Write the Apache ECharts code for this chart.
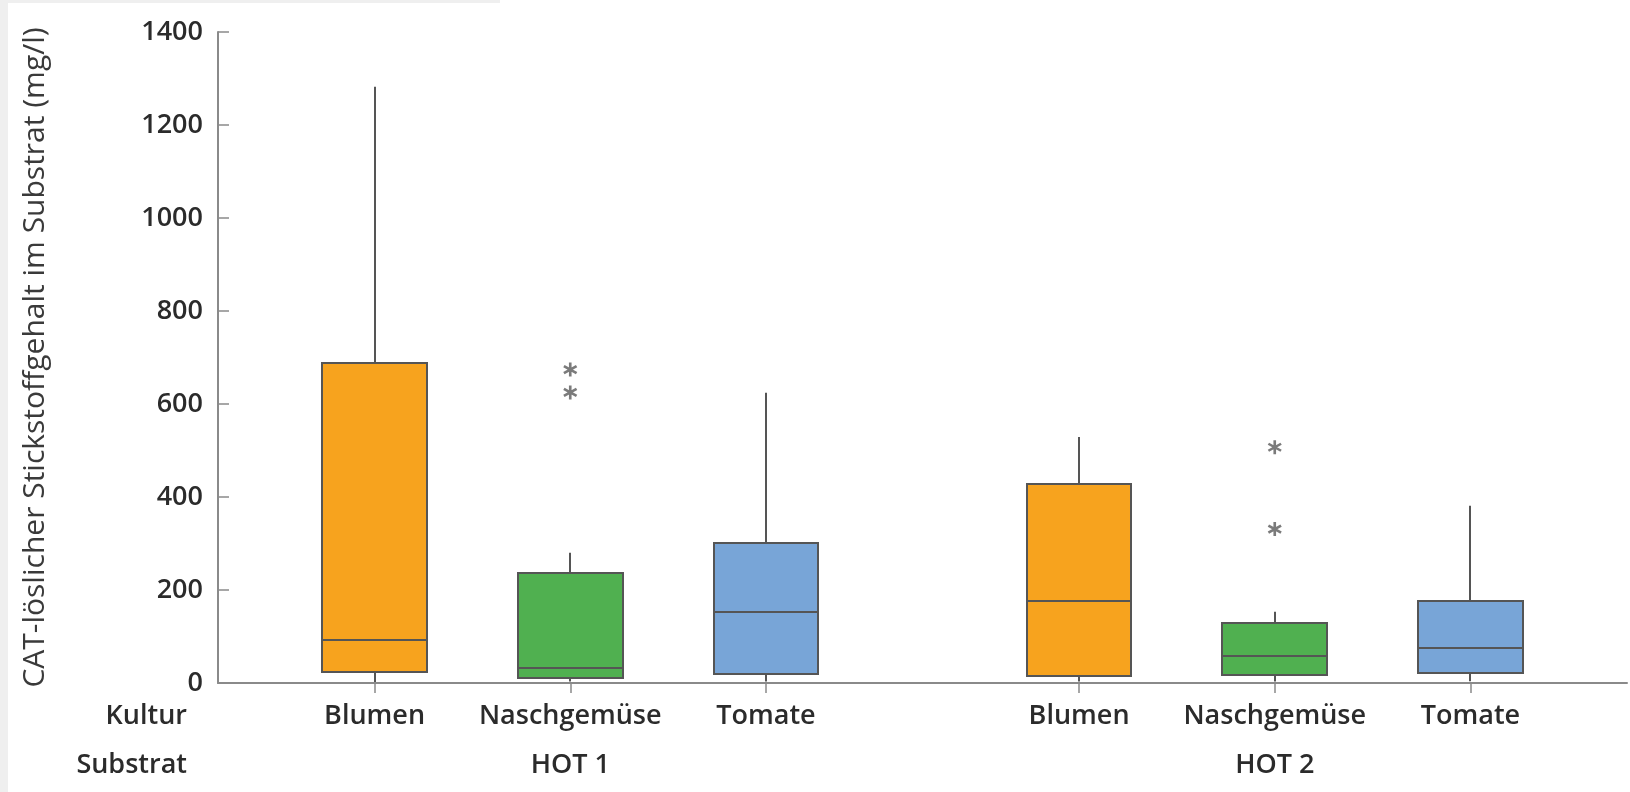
<!DOCTYPE html>
<html>
<head>
<meta charset="utf-8">
<script src="https://cdn.jsdelivr.net/npm/echarts@6/dist/echarts.min.js"></script>
<style>
  html, body { margin: 0; padding: 0; background: #ffffff; }
  #stripL { position: absolute; left: 0; top: 0; width: 8px; height: 792px; background: #efefef; }
  #stripT { position: absolute; left: 0; top: 0; width: 500px; height: 3px; background: #efefef; }
  #chart { position: absolute; left: 0; top: 0; width: 1630px; height: 792px; }
</style>
</head>
<body>
<div id="stripL"></div>
<div id="stripT"></div>
<div id="chart"></div>
<script>
// ---- data ----
const substrates = ['HOT 1', 'HOT 2'];
const cultures = ['Blumen', 'Naschgemüse', 'Tomate'];
const rowLabels = ['Kultur', 'Substrat'];
const yTicks = [0, 200, 400, 600, 800, 1000, 1200, 1400];
const axisTitle = 'CAT-löslicher Stickstoffgehalt im Substrat (mg/l)';
// [min, Q1, median, Q3, max] per culture
const hot1Boxes = [
  [2, 23, 93, 688, 1282],
  [3, 11, 32, 237, 280],
  [3, 20, 152, 302, 624]
];
const hot2Boxes = [
  [3, 16, 176, 427, 529],
  [3, 17, 57, 129, 153],
  [4, 22, 75, 176, 381]
];
const hot1Outliers = [[], [625, 674], []];
const hot2Outliers = [[], [331, 507], []];

// ---- layout helpers ----
const groupGap = 0.6;
const boxFrac = 0.535;
const cultureColors = ['#F7A31E', '#50B050', '#78A5D7'];
const lineColor = '#555555';
const boxesBySub = [hot1Boxes, hot2Boxes];
const outBySub = [hot1Outliers, hot2Outliers];
function posOf(g, c) { return g * (cultures.length + groupGap) + c + 1; }

const boxData = [];
const outlierData = [];
const labelMap = {};
const tickVals = [];
const groupCenters = [];
const groupMap = {};
substrates.forEach((s, g) => {
  cultures.forEach((c, ci) => {
    const x = posOf(g, ci);
    tickVals.push(x);
    labelMap[x.toFixed(2)] = c;
    boxData.push([x].concat(boxesBySub[g][ci]).concat([ci]));
    outBySub[g][ci].forEach(v => outlierData.push([x, v]));
  });
  const gc = posOf(g, (cultures.length - 1) / 2);
  groupCenters.push(gc);
  groupMap[gc.toFixed(2)] = s;
});

const FONT = "'Open Sans', 'Noto Sans', sans-serif";
const asterisk = 'path://M-0.9,-5 L0.9,-5 L0.9,5 L-0.9,5 Z M3.88,-3.279 L4.78,-1.721 L-3.88,3.279 L-4.78,1.721 Z M-4.78,-1.721 L-3.88,-3.279 L4.78,1.721 L3.88,3.279 Z';

function renderBox(params, api) {
  const x = api.value(0);
  const pMin = api.coord([x, api.value(1)]);
  const pQ1 = api.coord([x, api.value(2)]);
  const pMed = api.coord([x, api.value(3)]);
  const pQ3 = api.coord([x, api.value(4)]);
  const pMax = api.coord([x, api.value(5)]);
  const color = cultureColors[api.value(6)];
  const w = api.size([1, 0])[0] * boxFrac;
  const cx = Math.round(pMed[0]);
  const left = Math.round(pMed[0] - w / 2);
  const right = Math.round(pMed[0] + w / 2);
  const top = Math.round(pQ3[1]);
  const bottom = Math.round(pQ1[1]);
  const lineStyle = { stroke: lineColor, lineWidth: 2, fill: null };
  return {
    type: 'group',
    children: [
      { type: 'line', shape: { x1: cx, y1: top, x2: cx, y2: pMax[1] }, style: lineStyle },
      { type: 'line', shape: { x1: cx, y1: bottom, x2: cx, y2: pMin[1] }, style: lineStyle },
      { type: 'rect', shape: { x: left, y: top, width: right - left, height: bottom - top },
        style: { fill: color, stroke: lineColor, lineWidth: 2 } },
      { type: 'line', shape: { x1: left, y1: Math.round(pMed[1]), x2: right, y2: Math.round(pMed[1]) }, style: lineStyle }
    ]
  };
}

const chart = echarts.init(document.getElementById('chart'), null, { renderer: 'canvas' });
chart.setOption({
  backgroundColor: 'transparent',
  animation: false,
  grid: { left: 218, right: 3, top: 32, bottom: 109, containLabel: false },
  xAxis: [
    {
      type: 'value', min: 0.2, max: 7.4,
      splitLine: { show: false },
      axisLine: { show: true, lineStyle: { color: '#8a8a8a', width: 2 } },
      axisTick: { show: true, customValues: tickVals, length: 10, inside: false, lineStyle: { color: '#8a8a8a', width: 1.5 } },
      axisLabel: {
        show: true, customValues: tickVals, margin: 20,
        formatter: v => labelMap[v.toFixed(2)] || '',
        color: '#2b2b2b', fontFamily: FONT, fontSize: 27, fontWeight: 600
      }
    },
    {
      type: 'value', min: 0.2, max: 7.4, position: 'bottom',
      splitLine: { show: false },
      axisLine: { show: false },
      axisTick: { show: false },
      axisLabel: {
        show: true, customValues: groupCenters, margin: 69,
        formatter: v => groupMap[v.toFixed(2)] || '',
        color: '#2b2b2b', fontFamily: FONT, fontSize: 27, fontWeight: 600
      }
    }
  ],
  yAxis: {
    type: 'value', min: yTicks[0], max: yTicks[yTicks.length - 1], interval: 200,
    name: axisTitle, nameLocation: 'middle', nameRotate: 90, nameGap: 168,
    nameTextStyle: { color: '#3a3a3a', fontFamily: FONT, fontSize: 30, fontWeight: 'normal' },
    splitLine: { show: false },
    axisLine: { show: true, lineStyle: { color: '#8a8a8a', width: 2 } },
    axisTick: { show: true, inside: true, length: 11, lineStyle: { color: '#8a8a8a', width: 1.5 } },
    axisLabel: {
      margin: 15, color: '#2b2b2b', fontFamily: FONT, fontSize: 27, fontWeight: 600,
      formatter: v => String(v)
    }
  },
  graphic: rowLabels.map((t, i) => ({
    type: 'text', right: 1630 - 187, top: i === 0 ? 703 : 752,
    style: { text: t, fill: '#2b2b2b', font: '600 27px ' + FONT, textAlign: 'right' }
  })),
  series: [
    {
      type: 'custom', xAxisIndex: 0, yAxisIndex: 0,
      renderItem: renderBox,
      encode: { x: 0, y: [1, 2, 3, 4, 5] },
      data: boxData
    },
    {
      type: 'scatter', xAxisIndex: 0, yAxisIndex: 0,
      symbol: asterisk, symbolSize: 14,
      itemStyle: { color: '#5a5a5a' },
      data: outlierData
    }
  ]
});
</script>
</body>
</html>
